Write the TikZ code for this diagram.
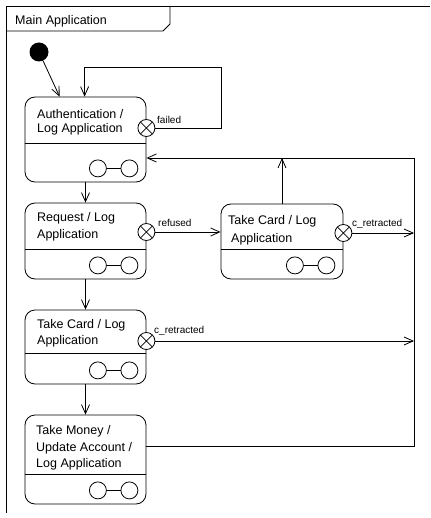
\documentclass[tikz,border=0pt]{standalone}
\usepackage{fontspec}
\setmainfont{Liberation Sans}
\usetikzlibrary{arrows.meta,calc}

\tikzset{
  statebox/.style={draw, rounded corners=10pt, minimum width=121pt, inner sep=0pt, line width=0.8pt},
  exitpt/.style={circle, draw, fill=white, minimum size=17pt, inner sep=0pt, line width=0.8pt,
    path picture={\draw[line width=0.8pt]
      (path picture bounding box.north west) -- (path picture bounding box.south east)
      (path picture bounding box.north east) -- (path picture bounding box.south west);}},
  subcirc/.style={circle, draw, fill=white, minimum size=17pt, inner sep=0pt, line width=0.8pt},
  link/.style={line width=0.8pt},
  arr/.style={line width=0.8pt, -{Straight Barb[length=9pt,width=8pt]}},
  boxtxt/.style={anchor=base west, inner sep=0pt, font=\fontsize{12.5}{15}\selectfont},
  edgetxt/.style={anchor=base west, inner sep=0pt, font=\fontsize{10}{12}\selectfont},
}

\begin{document}
\begin{tikzpicture}[x=1pt, y=-1pt]
\useasboundingbox (0,0) rectangle (430,518);

% frame and name tab
\draw[link] (430,6) -- (6,6) -- (6,513);
\draw[link] (170,6) -- (170,24) -- (163,31) -- (6,31);
\node[boxtxt] (title) at (15,25) {Main Application};

% initial pseudo-state
\node[circle, fill=black, minimum size=19pt, inner sep=0pt] (init) at (39,52) {};

% states
\node[statebox, minimum height=85pt] (auth) at (85.5,139.5) {};
\node[statebox, minimum height=76pt] (req) at (85.5,241) {};
\node[statebox, minimum width=122pt, minimum height=75pt] (tcR) at (282,241.5) {};
\node[statebox, minimum height=74pt] (tcL) at (85.5,347) {};
\node[statebox, minimum height=89pt] (money) at (85.5,459.5) {};

% compartment dividers
\draw[link] (auth.west |- 0,143) -- (auth.east |- 0,143);
\draw[link] (req.west |- 0,249) -- (req.east |- 0,249);
\draw[link] (tcR.west |- 0,249) -- (tcR.east |- 0,249);
\draw[link] (tcL.west |- 0,353) -- (tcL.east |- 0,353);
\draw[link] (money.west |- 0,474) -- (money.east |- 0,474);

% state names
\node[boxtxt] (authT1) at (37,119) {Authentication /};
\node[boxtxt] (authT2) at (37,133) {Log Application};
\node[boxtxt] (reqT1) at (37,222) {Request / Log};
\node[boxtxt] (reqT2) at (37,238) {Application};
\node[boxtxt] (tcRT1) at (228,225) {Take Card / Log};
\node[boxtxt] (tcRT2) at (231,242) {Application};
\node[boxtxt] (tcLT1) at (37,328) {Take Card / Log};
\node[boxtxt] (tcLT2) at (37,344) {Application};
\node[boxtxt] (monT1) at (36,434) {Take Money /};
\node[boxtxt] (monT2) at (36,451) {Update Account /};
\node[boxtxt] (monT3) at (36,467) {Log Application};

% composite-state icons
\foreach \s in {auth, req, tcR, tcL, money} {
  \node[subcirc] (\s A) at ($(\s.south east)+(-48.5,-14)$) {};
  \node[subcirc] (\s B) at ($(\s.south east)+(-17,-14)$) {};
  \draw[link] (\s A) -- (\s B);
}

% bus on the right back to authentication
\coordinate (loopTop) at (221,67);
\coordinate (busTop) at (414,158);
\coordinate (busBot) at (414,446);

% exit points
\node[exitpt] (authX) at (auth.east |- 0,128) {};
\node[exitpt] (reqX) at (req.east |- 0,232) {};
\node[exitpt] (tcRX) at (tcR.east |- 0,233) {};
\node[exitpt] (tcLX) at (tcL.east |- 0,341) {};

% transitions
\draw[arr] (init) -- ([xshift=35pt]auth.north west);
\draw[arr] (authX.east) -| (loopTop) -| ([xshift=60pt]auth.north west);
\draw[arr] (auth.south) -- (req.north);
\draw[arr] (req.south) -- (tcL.north);
\draw[arr] (tcL.south) -- (money.north);
\draw[arr] (reqX.east) -- (tcR.west |- reqX.east);
\draw[arr] (tcRX.east) -- (busTop |- tcRX.east);
\draw[arr] (tcLX.east) -- (busTop |- tcLX.east);
\draw[arr] (tcR.north) -- (tcR.north |- busTop);
\draw[arr] (money.east |- busBot) -- (busBot) -- (busTop) -- (auth.east |- busTop);

% transition labels
\node[edgetxt] (lblFailed) at (157,124) {failed};
\node[edgetxt] (lblRefused) at (158,226) {refused};
\node[edgetxt] (lblRetR) at (352,226) {c\_retracted};
\node[edgetxt] (lblRetL) at (154,333) {c\_retracted};
\end{tikzpicture}
\end{document}
